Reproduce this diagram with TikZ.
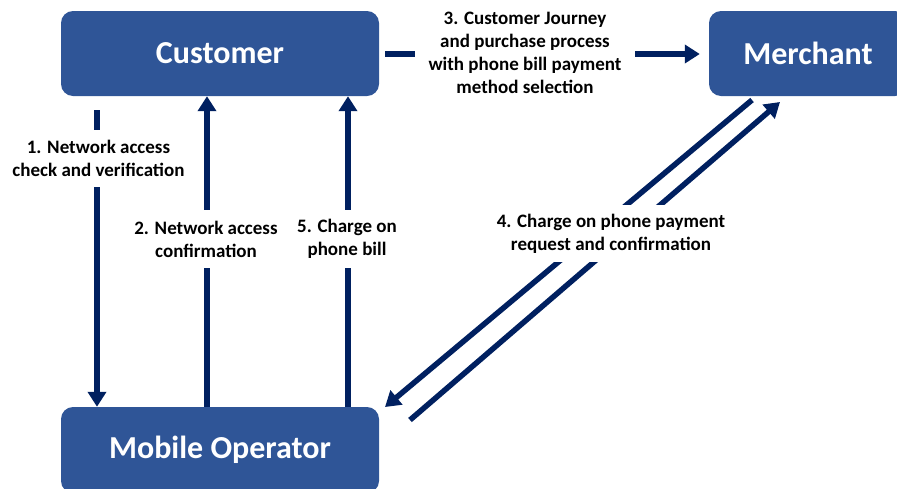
\documentclass[tikz,border=0pt]{standalone}
\usepackage{fontspec}
\setmainfont{Carlito}
\usetikzlibrary{arrows.meta}
\definecolor{boxblue}{RGB}{47,85,151}
\definecolor{navy}{RGB}{0,32,96}
\begin{document}
\begin{tikzpicture}[x=1pt,y=-1pt,
  entity/.style={fill=boxblue, rounded corners=12pt, text=white, font=\fontsize{32}{38}\selectfont\bfseries, minimum height=85pt, inner sep=0pt},
  lbl/.style={fill=white, align=center, font=\fontsize{19}{23}\selectfont\bfseries, inner sep=0pt},
  flow/.style={draw=navy, line width=5.5pt, -{Triangle[width=18pt,length=15pt]}}]
\useasboundingbox (0,0) rectangle (897,488);
% entities
\node[entity, minimum width=318pt] (cust) at (220,53.5) {Customer};
\node[entity, minimum width=198pt] (merch) at (808,53.5) {Merchant};
\node[entity, minimum width=318pt, minimum height=86pt] (mob) at (220,450) {Mobile Operator};
% helper coordinates
\coordinate (a1s) at (97,110);
\coordinate (a2x) at (207,0);
\coordinate (a5x) at (348,0);
\coordinate (a3s) at (385,54);
\coordinate (m4a) at (752,100);
\coordinate (o4a) at (385,407);
\coordinate (o4b) at (410,420);
\coordinate (m4b) at (780,102);
% connectors
\draw[flow] (a1s) -- (a1s |- mob.north);
\draw[flow] (mob.north -| a2x) -- (cust.south -| a2x);
\draw[flow] (mob.north -| a5x) -- (cust.south -| a5x);
\draw[flow, shorten >=9pt] (a3s) -- (merch.west |- a3s);
\draw[flow] (m4a) -- (o4a);
\draw[flow] (o4b) -- (m4b);
% labels
\node[lbl, minimum width=197pt, minimum height=57pt] (l1) at (98.5,158.5) {1. Network access\\check and verification};
\node[lbl, minimum width=185pt, minimum height=58pt] (l2) at (206,239) {2. Network access\\confirmation};
\node[lbl, minimum width=110pt, minimum height=58pt] (l5) at (347,239) {5. Charge on\\phone bill};
\node[lbl, minimum width=220pt, minimum height=105pt] (l3) at (525,52.5) {3. Customer Journey\\and purchase process\\with phone bill payment\\method selection};
\node[lbl, minimum width=292pt, minimum height=57pt] (l4) at (611,233.5) {4. Charge on phone payment\\request and confirmation};
\end{tikzpicture}
\end{document}
